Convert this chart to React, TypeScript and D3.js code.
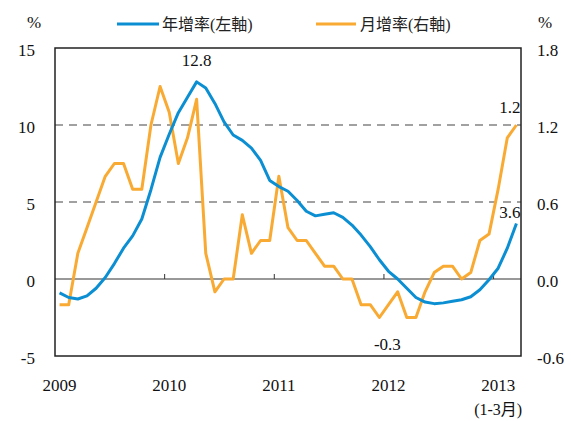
import * as d3 from "d3";

// monthly data, Jan 2009 .. Mar 2013
const months: string[] = [];
for (let y = 2009; y <= 2013; y++) {
  for (let m = 1; m <= 12; m++) {
    if (y === 2013 && m > 3) break;
    months.push(`${y}-${m}`);
  }
}

const annualGrowth = [
  -0.9, -1.2, -1.3, -1.1, -0.6, 0.1, 1.0, 2.0, 2.8, 3.9, 5.8, 7.9,
  9.4, 10.8, 11.8, 12.8, 12.4, 11.4, 10.2, 9.35, 9.0, 8.5, 7.7, 6.4,
  6.0, 5.7, 5.1, 4.4, 4.1, 4.2, 4.3, 4.0, 3.5, 2.85, 2.1, 1.25,
  0.5, 0.0, -0.6, -1.2, -1.5, -1.6, -1.55, -1.45, -1.35, -1.15, -0.7, -0.05,
  0.7, 2.0, 3.6,
];

const monthlyGrowth = [
  -0.2, -0.2, 0.2, 0.4, 0.6, 0.8, 0.9, 0.9, 0.7, 0.7, 1.2, 1.5,
  1.3, 0.9, 1.1, 1.4, 0.2, -0.1, 0.0, 0.0, 0.5, 0.2, 0.3, 0.3,
  0.8, 0.4, 0.3, 0.3, 0.2, 0.1, 0.1, 0.0, 0.0, -0.2, -0.2, -0.3,
  -0.2, -0.1, -0.3, -0.3, -0.1, 0.05, 0.1, 0.1, 0.0, 0.05, 0.3, 0.35,
  0.7, 1.1, 1.2,
];

const leftTicks = [15, 10, 5, 0, -5];
const rightTicks = [1.8, 1.2, 0.6, 0.0, -0.6];
const yearLabels = ["2009", "2010", "2011", "2012", "2013"];

const width = 571;
const height = 421;
const plotLeft = 55;
const plotRight = 521;
const plotTop = 48;
const plotBottom = 356;

const blue = "#0b8fd2";
const orange = "#f9aa33";
const num = { fontFamily: "Liberation Serif", fontSize: "17px" };
const cjk = { fontFamily: "Liberation Serif, Noto Sans CJK TC", fontSize: "16px" };

export default function App() {
  const x = d3.scaleBand<string>().domain(months).range([plotLeft, plotRight]);
  const cx = (i: number) => (x(months[i]) as number) + x.bandwidth() / 2;
  const yL = d3.scaleLinear([-5, 15], [plotBottom, plotTop]);
  const yR = d3.scaleLinear([-0.6, 1.8], [plotBottom, plotTop]);

  const lineL = d3
    .line<number>()
    .x((d, i) => cx(i))
    .y((d) => yL(d));
  const lineR = d3
    .line<number>()
    .x((d, i) => cx(i))
    .y((d) => yR(d));

  const yearStarts = yearLabels.map((y) => months.indexOf(`${y}-1`));
  const last = months.length - 1;
  const peak = annualGrowth.indexOf(d3.max(annualGrowth) as number);
  const low = monthlyGrowth.indexOf(-0.3);

  return (
    <svg
      width={width}
      height={height}
      style={{ position: "absolute", left: 0, top: 0, background: "#fff" }}
    >
      {/* dashed grid */}
      {[10, 5].map((v) => (
        <line
          key={v}
          x1={plotLeft}
          x2={plotRight}
          y1={yL(v)}
          y2={yL(v)}
          stroke="#444"
          strokeWidth={1.2}
          strokeDasharray="8,6"
        />
      ))}
      {/* zero line with year ticks */}
      <line
        x1={plotLeft}
        x2={plotRight}
        y1={yL(0)}
        y2={yL(0)}
        stroke="#333"
        strokeWidth={1}
      />
      {yearStarts.slice(1).map((i) => (
        <line
          key={i}
          x1={x(months[i])}
          x2={x(months[i])}
          y1={yL(0)}
          y2={yL(0) - 5}
          stroke="#333"
          strokeWidth={1}
        />
      ))}
      <path d={lineR(monthlyGrowth) as string} fill="none" stroke={orange} strokeWidth={3} strokeLinejoin="round" />
      <path d={lineL(annualGrowth) as string} fill="none" stroke={blue} strokeWidth={3} strokeLinejoin="round" />
      {/* frame */}
      <rect
        x={plotLeft}
        y={plotTop}
        width={plotRight - plotLeft}
        height={plotBottom - plotTop}
        fill="none"
        stroke="#222"
        strokeWidth={1.5}
      />
      {/* axis labels */}
      {leftTicks.map((t) => (
        <text key={t} x={35} y={yL(t) + 8} textAnchor="end" style={num} fill="#111">
          {t}
        </text>
      ))}
      {rightTicks.map((t) => (
        <text key={t} x={537} y={yR(t) + 8} style={num} fill="#111">
          {t.toFixed(1)}
        </text>
      ))}
      {yearLabels.map((y, k) => (
        <text key={y} x={cx(yearStarts[k])} y={391} textAnchor="middle" style={num} fill="#111">
          {y}
        </text>
      ))}
      <text x={34} y={28} textAnchor="middle" style={num} fill="#111">%</text>
      <text x={545} y={28} textAnchor="middle" style={num} fill="#111">%</text>
      <text x={cx(peak)} y={66} textAnchor="middle" style={num} fill="#111">
        {annualGrowth[peak].toFixed(1)}
      </text>
      <text x={cx(last) + 4} y={113} textAnchor="end" style={num} fill="#111">
        {monthlyGrowth[last].toFixed(1)}
      </text>
      <text x={cx(last) + 4} y={218} textAnchor="end" style={num} fill="#111">
        {annualGrowth[last].toFixed(1)}
      </text>
      <text x={cx(low) + 8} y={350} textAnchor="middle" style={num} fill="#111">
        {monthlyGrowth[low].toFixed(1)}
      </text>
      <text x={cx(48)} y={415} textAnchor="middle" style={cjk} fill="#111">
        (1-3月)
      </text>
      {/* legend */}
      <line x1={117} x2={159} y1={24} y2={24} stroke={blue} strokeWidth={3} />
      <text x={162} y={30} style={cjk} fill="#222">
        年增率(左軸)
      </text>
      <line x1={316} x2={356} y1={24} y2={24} stroke={orange} strokeWidth={3} />
      <text x={360} y={30} style={cjk} fill="#222">
        月增率(右軸)
      </text>
    </svg>
  );
}
